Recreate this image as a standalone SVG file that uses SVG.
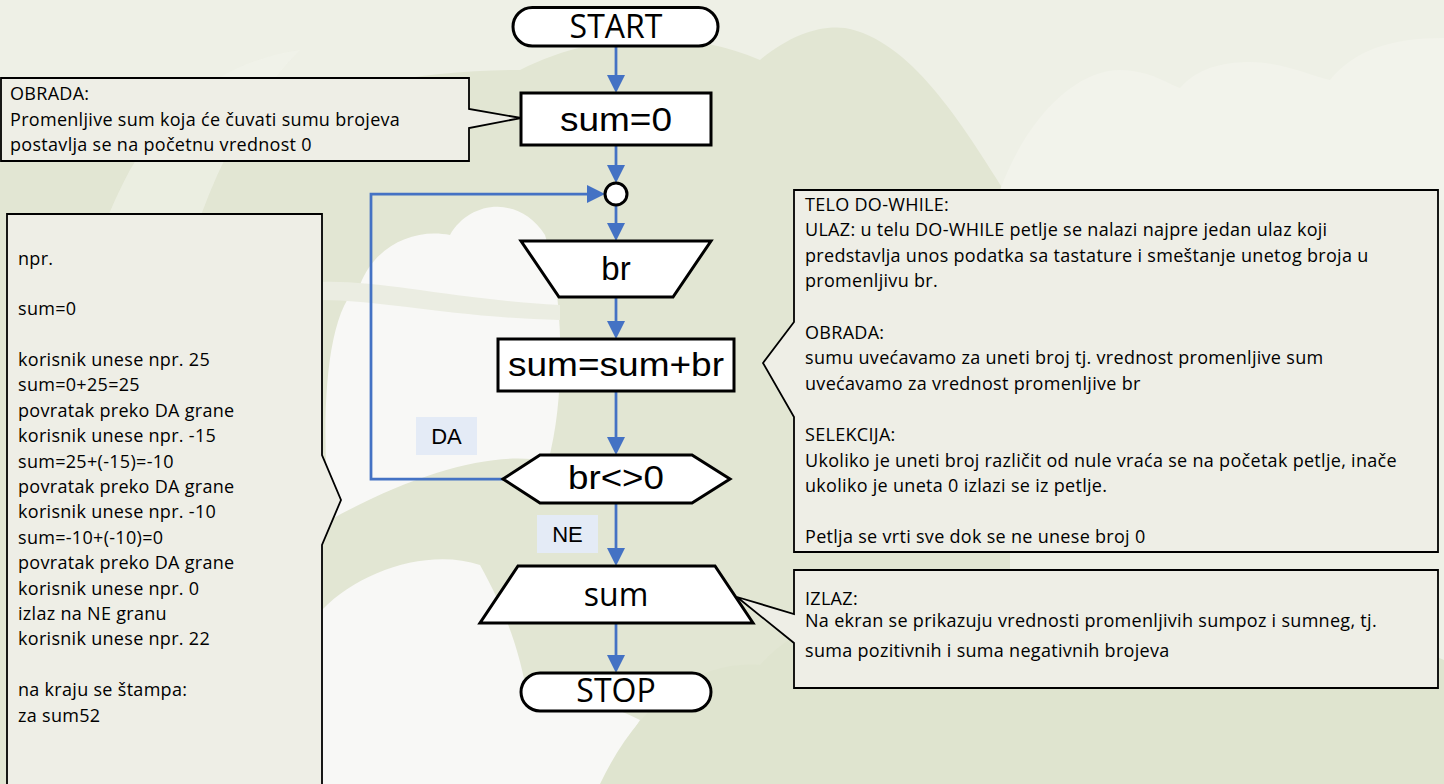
<svg xmlns="http://www.w3.org/2000/svg" width="1444" height="784" viewBox="0 0 1444 784">
<defs>
<style>
.bgd{fill:#e2e6d3}
.bgw{fill:#f8f8f6}
.bgl{fill:#f2f3eb}
.node{fill:#ffffff;stroke:#000;stroke-width:3;stroke-linejoin:miter}
.call{fill:#eeeee6;stroke:#000;stroke-width:1.8;stroke-linejoin:miter}
.conn{fill:none;stroke:#4472c4;stroke-width:2.75}
.lbl{fill:#e4ebf6}
.t1{font-family:"Open Sans",sans-serif;font-size:18px;letter-spacing:0.3px;fill:#000}
.t2{font-family:"Open Sans",sans-serif;font-size:18px;letter-spacing:0.3px;fill:#000}
.ts{font-family:"Open Sans",sans-serif;font-size:32px;fill:#000;text-anchor:middle}
.ta{font-family:"Liberation Sans",Arial,sans-serif;font-size:33px;fill:#000;text-anchor:middle}
.tl{font-family:"Liberation Sans",Arial,sans-serif;font-size:22px;fill:#000;text-anchor:middle}
</style>
<marker id="ah" markerUnits="userSpaceOnUse" markerWidth="18" markerHeight="18" refX="12" refY="9" orient="auto">
<path d="M0,0 L18,9 L0,18 Z" fill="#4472c4"/>
</marker>
</defs>

<g id="background">
<rect x="0" y="0" width="1444" height="784" fill="#eef0e6"/>
<path class="bgd" d="M0 130 C80 110 180 100 250 120 C320 90 420 70 520 70 C600 30 690 30 760 60 C790 35 820 25 845 28 C910 40 960 120 1010 200 L1010 784 L0 784 Z"/>
<path class="bgl" d="M20 784 C30 500 60 300 130 170 C170 100 230 60 300 50 C240 110 200 200 175 300 L120 784 Z" opacity="0.6"/>
<path class="bgl" d="M1000 190 C1030 110 1080 70 1120 70 C1150 70 1170 85 1180 88 C1200 65 1230 62 1250 62 C1280 62 1310 75 1330 80 C1355 50 1390 38 1444 38 L1444 200 L1000 200 Z"/>
<path class="bgw" d="M330 520 C320 420 325 310 360 285 C375 245 415 228 450 235 C470 200 520 195 545 235 C565 300 565 400 548 462 C500 450 420 470 330 520 Z"/>
<path d="M322 282 C380 280 460 300 560 305 L560 320 C460 318 380 300 322 300 Z" fill="#ebede2"/>
<path class="bgw" d="M322 784 L322 610 C360 570 430 548 480 565 C505 610 520 650 528 700 C560 690 600 700 640 720 C620 750 605 784 605 784 Z"/>
<path d="M600 784 C640 700 700 660 760 665 C800 620 870 600 940 610 C1000 560 1100 560 1180 620 C1250 600 1350 620 1444 660 L1444 784 Z" fill="#dfe4cf"/>
</g>

<g id="callout-obrada1">
<path class="call" d="M1 78 L469 78 L469 109 L521 118 L469 128 L469 161 L1 161 Z"/>
<text class="t1" x="10" y="100">OBRADA:</text>
<text class="t1" x="10" y="126">Promenljive sum koja će čuvati sumu brojeva</text>
<text class="t1" x="10" y="151">postavlja se na početnu vrednost 0</text>
</g>

<g id="callout-primer">
<path class="call" d="M7 214 L322 214 L322 455 L341 500 L322 545 L322 800 L7 800 Z"/>
<text class="t1" x="18" y="265">npr.</text>
<text class="t1" x="18" y="315">sum=0</text>
<text class="t1" x="18" y="366">korisnik unese npr. 25</text>
<text class="t1" x="18" y="391.4">sum=0+25=25</text>
<text class="t1" x="18" y="416.8">povratak preko DA grane</text>
<text class="t1" x="18" y="442.2">korisnik unese npr. -15</text>
<text class="t1" x="18" y="467.6">sum=25+(-15)=-10</text>
<text class="t1" x="18" y="493">povratak preko DA grane</text>
<text class="t1" x="18" y="518.4">korisnik unese npr. -10</text>
<text class="t1" x="18" y="543.8">sum=-10+(-10)=0</text>
<text class="t1" x="18" y="569.2">povratak preko DA grane</text>
<text class="t1" x="18" y="594.6">korisnik unese npr. 0</text>
<text class="t1" x="18" y="620">izlaz na NE granu</text>
<text class="t1" x="18" y="645.4">korisnik unese npr. 22</text>
<text class="t1" x="18" y="696.2">na kraju se štampa:</text>
<text class="t1" x="18" y="721.6">za sum52</text>
</g>

<g id="callout-telo">
<path class="call" d="M794 190 L1438 190 L1438 552 L794 552 L794 417 L763 363 L794 322 Z"/>
<text class="t2" x="805" y="210.5">TELO DO-WHILE:</text>
<text class="t2" x="805" y="236.1">ULAZ: u telu DO-WHILE petlje se nalazi najpre jedan ulaz koji</text>
<text class="t2" x="805" y="261.7">predstavlja unos podatka sa tastature i smeštanje unetog broja u</text>
<text class="t2" x="805" y="287.3">promenljivu br.</text>
<text class="t2" x="805" y="338.5">OBRADA:</text>
<text class="t2" x="805" y="364.1">sumu uvećavamo za uneti broj tj. vrednost promenljive sum</text>
<text class="t2" x="805" y="389.7">uvećavamo za vrednost promenljive br</text>
<text class="t2" x="805" y="440.9">SELEKCIJA:</text>
<text class="t2" x="805" y="466.5">Ukoliko je uneti broj različit od nule vraća se na početak petlje, inače</text>
<text class="t2" x="805" y="492.1">ukoliko je uneta 0 izlazi se iz petlje.</text>
<text class="t2" x="805" y="543.3">Petlja se vrti sve dok se ne unese broj 0</text>
</g>

<g id="callout-izlaz">
<path class="call" d="M794 570 L1438 570 L1438 688 L794 688 L794 643 L737 597 L794 614 Z"/>
<text class="t2" x="805" y="605">IZLAZ:</text>
<text class="t2" x="805" y="627">Na ekran se prikazuju vrednosti promenljivih sumpoz i sumneg, tj.</text>
<text class="t2" x="805" y="656.5">suma pozitivnih i suma negativnih brojeva</text>
</g>

<g id="connectors">
<path class="conn" marker-end="url(#ah)" d="M616 46 L616 87"/>
<path class="conn" marker-end="url(#ah)" d="M616 145 L616 177"/>
<path class="conn" marker-end="url(#ah)" d="M616 205 L616 235"/>
<path class="conn" marker-end="url(#ah)" d="M616 297 L616 333"/>
<path class="conn" marker-end="url(#ah)" d="M616 391 L616 449"/>
<path class="conn" marker-end="url(#ah)" d="M616 503 L616 560"/>
<path class="conn" marker-end="url(#ah)" d="M616 623 L616 667"/>
<path class="conn" marker-end="url(#ah)" d="M503 479 L371 479 L371 194 L599 194"/>
</g>

<g id="label-da">
<rect class="lbl" x="416" y="417" width="61" height="38"/>
<text class="tl" x="446.5" y="443.5">DA</text>
</g>
<g id="label-ne">
<rect class="lbl" x="537" y="515" width="61" height="38"/>
<text class="tl" x="567.5" y="542">NE</text>
</g>

<g id="node-start">
<rect class="node" x="513" y="7.5" width="205" height="38.5" rx="19.25"/>
<text class="ts" x="616" y="37.5">START</text>
</g>
<g id="node-sum0">
<rect class="node" x="521" y="93" width="190" height="52"/>
<text class="ta" x="616" y="131" textLength="112" lengthAdjust="spacingAndGlyphs">sum=0</text>
</g>
<g id="node-connector">
<circle class="node" cx="616" cy="194" r="11" stroke-width="2.5"/>
</g>
<g id="node-input-br">
<path class="node" d="M521 241 L711 241 L673 297 L559 297 Z"/>
<text class="ta" x="616" y="280">br</text>
</g>
<g id="node-sumbr">
<rect class="node" x="498" y="339" width="236" height="52"/>
<text class="ta" x="616" y="376" textLength="216" lengthAdjust="spacingAndGlyphs">sum=sum+br</text>
</g>
<g id="node-cond">
<path class="node" d="M503 479 L540 455 L692 455 L730 479 L692 503 L540 503 Z"/>
<text class="ta" x="616" y="489" textLength="96" lengthAdjust="spacingAndGlyphs">br&lt;&gt;0</text>
</g>
<g id="node-output-sum">
<path class="node" d="M518 566 L715 566 L753 623 L480 623 Z"/>
<text class="ts" x="616" y="606" font-size="34">sum</text>
</g>
<g id="node-stop">
<rect class="node" x="521" y="673" width="190" height="38" rx="19"/>
<text class="ts" x="616" y="702">STOP</text>
</g>
</svg>
